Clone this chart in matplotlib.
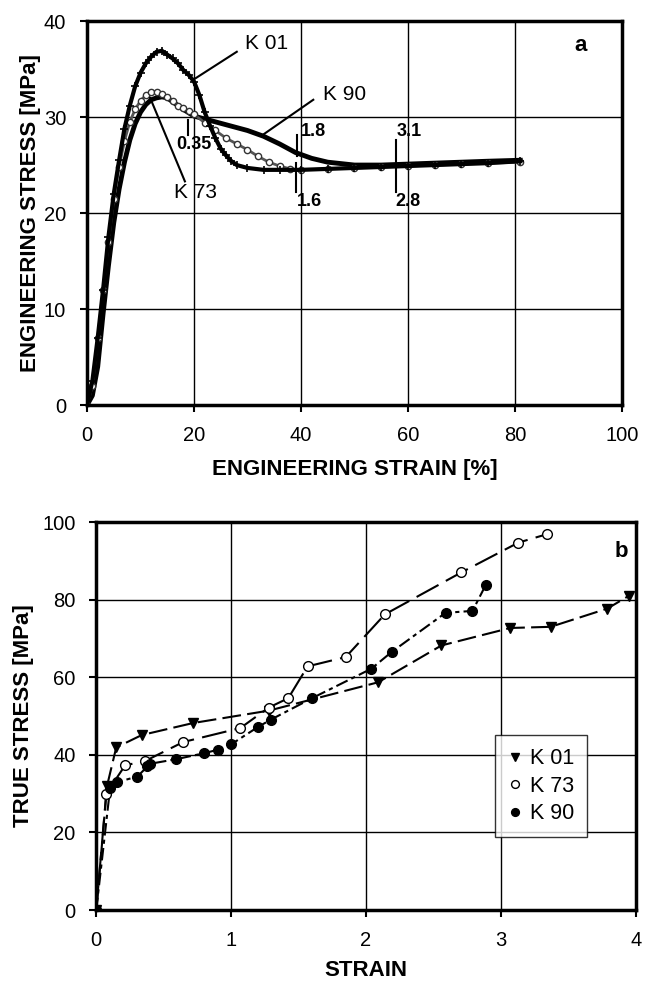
import matplotlib
matplotlib.use("Agg")
import matplotlib.pyplot as plt

plt.rcParams['font.family'] = ['Liberation Sans', 'DejaVu Sans']

# --- panel a: engineering stress-strain curves ---
k01_strain = [0, 1, 2, 3, 4, 5, 6, 7, 8, 9, 10, 11, 12, 13, 14, 15, 16, 17, 18, 19, 20,
              21, 22, 23, 24, 25, 26, 27, 28, 30, 33, 36, 40, 45, 50, 55, 60, 65, 70, 75, 81]
k01_stress = [0, 2.5, 7, 12, 17.5, 22, 25.5, 28.8, 31.2, 33.2, 34.6, 35.6, 36.3, 36.8, 36.9, 36.5,
              36.1, 35.6, 34.9, 34.4, 33.7, 32.3, 30.5, 29.1, 27.8, 26.7, 26.0, 25.4, 25.0, 24.7,
              24.5, 24.5, 24.5, 24.6, 24.7, 24.8, 24.9, 25.0, 25.1, 25.2, 25.4]

k73_strain = [0, 1, 2, 3, 4, 5, 6, 7, 8, 9, 10, 11, 12, 13, 14, 15, 16, 17, 18, 19, 20,
              22, 24, 26, 28, 30, 32, 34, 36, 38, 40, 45, 50, 55, 60, 65, 70, 75, 81]
k73_stress = [0, 2, 7, 12, 17, 21.5, 24.8, 27.5, 29.5, 30.8, 31.7, 32.3, 32.6, 32.6, 32.4, 32.1,
              31.7, 31.2, 30.9, 30.6, 30.3, 29.4, 28.6, 27.8, 27.2, 26.6, 25.9, 25.3, 24.9, 24.6,
              24.5, 24.6, 24.7, 24.8, 24.9, 25.0, 25.1, 25.2, 25.3]

k90_strain = [0, 1, 2, 3, 4, 5, 6, 7, 8, 9, 10, 11, 12, 13, 14, 15, 16, 17, 18, 20, 22, 24,
              26, 28, 30, 33, 36, 39, 42, 45, 50, 55, 60, 65, 70, 75, 81]
k90_stress = [0, 1, 4, 9.5, 14.5, 19, 22.5, 25.3, 27.6, 29.3, 30.5, 31.3, 31.8, 32.0, 32.1, 32.0,
              31.6, 31.2, 30.8, 30.1, 29.8, 29.5, 29.2, 28.9, 28.6, 28.0, 27.2, 26.3, 25.7, 25.3,
              25.0, 25.0, 25.1, 25.2, 25.3, 25.4, 25.5]

# --- panel b: true stress vs true strain points ---
k01_eps = [0, 0.08, 0.148, 0.337, 0.718, 1.28, 2.09, 2.56, 3.07, 3.37, 3.79, 3.95]
k01_sig = [0, 32.0, 41.9, 45.1, 48.2, 51.4, 58.7, 68.2, 72.7, 73.0, 77.7, 81.0]

k73_eps = [0, 0.074, 0.214, 0.362, 0.645, 1.068, 1.28, 1.424, 1.567, 1.85, 2.14, 2.706, 3.13, 3.345]
k73_sig = [0, 30.0, 37.3, 38.4, 43.3, 46.9, 52.2, 54.6, 62.8, 65.2, 76.2, 87.0, 94.7, 96.9]

k90_eps = [0, 0.103, 0.157, 0.305, 0.379, 0.4, 0.595, 0.797, 0.9, 1.0, 1.2, 1.296, 1.6,
           2.04, 2.19, 2.59, 2.79, 2.89]
k90_sig = [0, 31.5, 33.0, 34.4, 37.0, 37.7, 38.9, 40.4, 41.3, 42.7, 47.2, 49.1, 54.6,
           62.2, 66.5, 76.6, 77.1, 83.9]

fig = plt.figure(figsize=(6.46, 9.88), dpi=100)

def style_axes(ax):
    for s in ax.spines.values():
        s.set_linewidth(2.5)
    ax.grid(True, color='black', linewidth=1)
    ax.set_axisbelow(True)
    ax.tick_params(direction='out', length=5, width=1.5, labelsize=14.5, pad=10)

# ---------- a ----------
ax1 = fig.add_axes([0.1347, 0.590, 0.828, 0.3887])
ax1.plot(k90_strain, k90_stress, color='black', lw=3.5)
ax1.plot(k73_strain, k73_stress, color='#555555', lw=2, marker='o', ms=4.5,
         mfc='white', mec='#333333', mew=1)
ax1.plot(k01_strain, k01_stress, color='black', lw=3, marker='+', ms=6, mew=1.2)
ax1.set_xlim(0, 100)
ax1.set_ylim(0, 40)
ax1.set_xticks([0, 20, 40, 60, 80, 100])
ax1.set_yticks([0, 10, 20, 30, 40])
style_axes(ax1)
ax1.set_xlabel('ENGINEERING STRAIN [%]', fontsize=16, fontweight='bold', labelpad=10)
ax1.set_ylabel('ENGINEERING STRESS [MPa]', fontsize=16, fontweight='bold', labelpad=2)

# callouts
ax1.plot([28, 19.9], [36.8, 33.9], color='black', lw=1.5)
ax1.text(29.5, 37.7, 'K 01', fontsize=15, va='center')
ax1.plot([42.3, 33], [31.8, 28.2], color='black', lw=1.5)
ax1.text(44.1, 32.3, 'K 90', fontsize=15, va='center')
ax1.plot([18.3, 11.8], [23.3, 32.0], color='black', lw=1.5)
ax1.text(16.2, 22.1, 'K 73', fontsize=15, va='center')

ax1.plot([18.9, 18.9], [28.1, 29.7], color='black', lw=1.5)
ax1.text(19.9, 27.1, '0.35', fontsize=13, fontweight='bold', ha='center', va='center')
ax1.plot([39.2, 39.2], [25.9, 28.1], color='black', lw=1.5)
ax1.text(40, 28.5, '1.8', fontsize=13, fontweight='bold', va='center')
ax1.plot([39.0, 39.0], [22.2, 25.2], color='black', lw=1.5)
ax1.text(39.3, 21.2, '1.6', fontsize=13, fontweight='bold', va='center')
ax1.plot([57.7, 57.7], [22.2, 27.6], color='black', lw=1.5)
ax1.text(57.9, 28.5, '3.1', fontsize=13, fontweight='bold', va='center')
ax1.text(57.7, 21.2, '2.8', fontsize=13, fontweight='bold', va='center')
ax1.text(91.2, 37.5, 'a', fontsize=16, fontweight='bold', va='center')

# ---------- b ----------
ax2 = fig.add_axes([0.149, 0.0789, 0.835, 0.3927])
ax2.plot(k01_eps, k01_sig, color='black', lw=1.5, ls=(0, (9, 3)),
         marker='v', ms=7, mfc='black', mec='black', label='K 01')
ax2.plot(k73_eps, k73_sig, color='black', lw=1.5, ls=(0, (12, 4)),
         marker='o', ms=7, mfc='white', mec='black', mew=1, label='K 73')
ax2.plot(k90_eps, k90_sig, color='black', lw=1.5, ls=(0, (6, 2, 2, 2)),
         marker='o', ms=7, mfc='black', mec='black', label='K 90')
ax2.set_xlim(0, 4)
ax2.set_ylim(0, 100)
ax2.set_xticks([0, 1, 2, 3, 4])
ax2.set_yticks([0, 20, 40, 60, 80, 100])
style_axes(ax2)
ax2.set_xlabel('STRAIN', fontsize=16, fontweight='bold', labelpad=7)
ax2.set_ylabel('TRUE STRESS [MPa]', fontsize=16, fontweight='bold', labelpad=6)
ax2.text(3.84, 92.3, 'b', fontsize=16, fontweight='bold', va='center')

leg = ax2.legend(loc='lower left', bbox_to_anchor=(0.72, 0.16), frameon=True,
                 fontsize=15.5, handlelength=0.6, handletextpad=0.4, borderpad=0.6,
                 labelspacing=0.3, fancybox=False, markerscale=0.8)
leg.get_frame().set_edgecolor('black')
leg.get_frame().set_linewidth(1)
for h in leg.get_lines():
    h.set_linestyle('none')

fig.savefig('out.png', dpi=100)
